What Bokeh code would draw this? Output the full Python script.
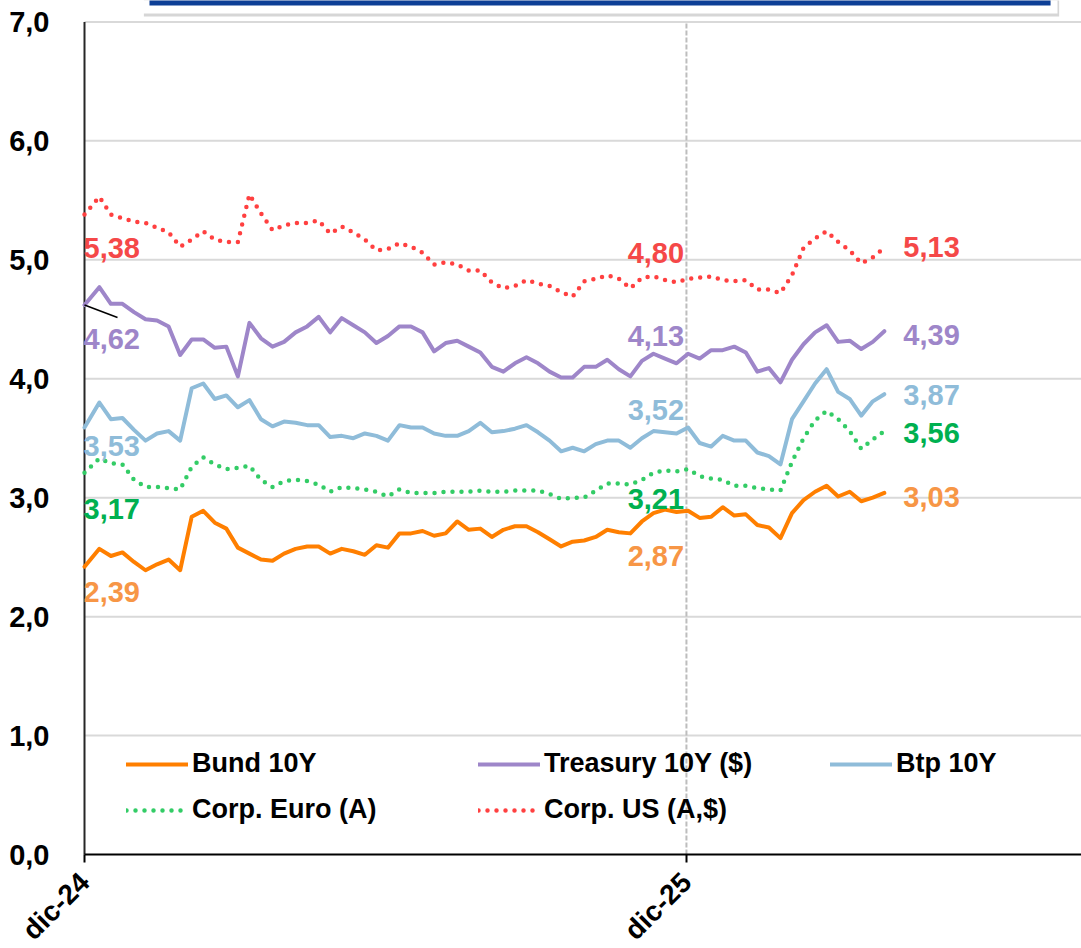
import math
import pandas as pd
from bokeh.plotting import figure
from bokeh.models import (Range1d, FixedTicker, CustomJSTickFormatter, Legend,
                          LegendItem, ColumnDataSource)
from bokeh.core.properties import value
from bokeh.embed import file_html
from bokeh.resources import INLINE

# ---------------- data ----------------
dates = pd.to_datetime(["2024-12-01"]).append(
    pd.date_range("2024-12-10", periods=69, freq="7D"))

bund = [2.42, 2.57, 2.51, 2.54, 2.46, 2.39, 2.44, 2.48, 2.39, 2.84,
        2.89, 2.79, 2.74, 2.58, 2.53, 2.48, 2.47, 2.53, 2.57, 2.59,
        2.59, 2.53, 2.57, 2.55, 2.52, 2.60, 2.58, 2.70, 2.70, 2.72,
        2.68, 2.70, 2.80, 2.73, 2.74, 2.67, 2.73, 2.76, 2.76, 2.71,
        2.65, 2.59, 2.63, 2.64, 2.67, 2.73, 2.71, 2.70, 2.80, 2.87,
        2.90, 2.88, 2.89, 2.83, 2.84, 2.92, 2.85, 2.86, 2.77, 2.75,
        2.66, 2.87, 2.98, 3.05, 3.10, 3.01, 3.05, 2.97, 3.00, 3.04]

treasury = [4.62, 4.77, 4.63, 4.63, 4.56, 4.50, 4.49, 4.44, 4.20, 4.33,
            4.33, 4.26, 4.27, 4.02, 4.47, 4.34, 4.27, 4.31, 4.39, 4.44,
            4.52, 4.39, 4.51, 4.45, 4.39, 4.30, 4.36, 4.44, 4.44, 4.39,
            4.23, 4.30, 4.32, 4.27, 4.22, 4.10, 4.06, 4.13, 4.18, 4.13,
            4.06, 4.01, 4.01, 4.10, 4.10, 4.16, 4.08, 4.02, 4.15, 4.21,
            4.17, 4.13, 4.21, 4.17, 4.24, 4.24, 4.27, 4.22, 4.06, 4.09,
            3.97, 4.16, 4.29, 4.39, 4.45, 4.31, 4.32, 4.25, 4.31, 4.40]

btp = [3.59, 3.80, 3.66, 3.67, 3.57, 3.48, 3.54, 3.56, 3.48, 3.92,
       3.96, 3.83, 3.86, 3.76, 3.82, 3.66, 3.60, 3.64, 3.63, 3.61,
       3.61, 3.51, 3.52, 3.50, 3.54, 3.52, 3.48, 3.61, 3.59, 3.59,
       3.54, 3.52, 3.52, 3.56, 3.63, 3.55, 3.56, 3.58, 3.61, 3.55,
       3.48, 3.39, 3.42, 3.39, 3.45, 3.48, 3.48, 3.42, 3.50, 3.56,
       3.55, 3.54, 3.59, 3.46, 3.43, 3.52, 3.48, 3.48, 3.38, 3.35,
       3.28, 3.66, 3.81, 3.96, 4.08, 3.89, 3.83, 3.69, 3.81, 3.87]

corp_euro = [3.21, 3.33, 3.29, 3.28, 3.15, 3.09, 3.09, 3.08, 3.07, 3.26,
             3.34, 3.28, 3.24, 3.25, 3.27, 3.15, 3.09, 3.14, 3.15, 3.14,
             3.11, 3.05, 3.09, 3.08, 3.07, 3.05, 3.01, 3.07, 3.04, 3.04,
             3.04, 3.05, 3.05, 3.05, 3.06, 3.05, 3.05, 3.06, 3.06, 3.06,
             3.03, 2.99, 3.00, 3.00, 3.06, 3.12, 3.12, 3.11, 3.15, 3.21,
             3.23, 3.22, 3.24, 3.18, 3.16, 3.15, 3.10, 3.10, 3.08, 3.07,
             3.06, 3.30, 3.50, 3.65, 3.73, 3.66, 3.56, 3.41, 3.49, 3.56]

corp_us = [5.38, 5.53, 5.38, 5.35, 5.32, 5.31, 5.27, 5.23, 5.11, 5.17,
           5.24, 5.17, 5.15, 5.15, 5.55, 5.39, 5.25, 5.29, 5.31, 5.31,
           5.33, 5.22, 5.28, 5.23, 5.17, 5.08, 5.09, 5.14, 5.11, 5.06,
           4.96, 4.98, 4.96, 4.91, 4.91, 4.81, 4.76, 4.78, 4.83, 4.80,
           4.78, 4.73, 4.69, 4.82, 4.84, 4.87, 4.84, 4.76, 4.85, 4.86,
           4.83, 4.81, 4.84, 4.85, 4.86, 4.83, 4.82, 4.83, 4.75, 4.75,
           4.72, 4.87, 5.10, 5.18, 5.24, 5.15, 5.08, 4.97, 5.02, 5.10]

series_names = ["Bund 10Y", "Treasury 10Y ($)", "Btp 10Y",
                "Corp. Euro (A)", "Corp. US (A,$)"]

# data labels shown on the chart (start / year-end / last)
label_start = [2.39, 4.62, 3.53, 3.17, 5.38]
label_mid = [2.87, 4.13, 3.52, 3.21, 4.80]
label_end = [3.03, 4.39, 3.87, 3.56, 5.13]

x_ticks = ["2024-12-01", "2025-12-01"]
y_ticks = [0, 1, 2, 3, 4, 5, 6, 7]

# ---------------- styles ----------------
all_series = [bund, treasury, btp, corp_euro, corp_us]
line_colors = ["#ff7f00", "#9e86c9", "#8fbcd9", "#33cc66", "#ff4040"]
label_colors = ["#f79646", "#9e86c9", "#8fbcd9", "#00b050", "#f54848"]
dashes = ["solid", "solid", "solid", "0 9", "0 9"]
widths = [4, 4, 4, 4.5, 4.5]
FONT = "Liberation Sans"

day = pd.Timedelta(days=1)
t0 = pd.Timestamp(x_ticks[0])
t25 = pd.Timestamp(x_ticks[1])
x_start = t0 - 50.94 * day
x_end = x_start + 655.5 * day

p = figure(width=1081, height=948, x_axis_type="datetime",
           x_range=Range1d(x_start.to_pydatetime(), x_end.to_pydatetime()),
           y_range=Range1d(-0.790, 7.180),
           output_backend="svg", toolbar_location=None,
           min_border_left=0, min_border_right=0, min_border_top=0,
           min_border_bottom=0)
p.outline_line_color = None
p.background_fill_color = "white"
p.border_fill_color = "white"

# y axis (drawn at the first date)
yt = FixedTicker(ticks=y_ticks)
p.yaxis.ticker = yt
p.yaxis.fixed_location = t0.value / 1e6
p.yaxis.formatter = CustomJSTickFormatter(
    code="return tick.toFixed(1).replace('.', ',');")
p.yaxis.axis_line_color = None
p.yaxis.major_tick_line_color = None
p.yaxis.minor_tick_line_color = None
p.yaxis.major_label_standoff = 29
p.yaxis.major_label_text_font = FONT
p.yaxis.major_label_text_font_style = "bold"
p.yaxis.major_label_text_font_size = "29px"
p.yaxis.major_label_text_color = "black"

# x axis (drawn at y = 0, starting at the y axis)
xt = FixedTicker(ticks=[pd.Timestamp(t).value / 1e6 for t in x_ticks])
p.xaxis.ticker = xt
p.xaxis.fixed_location = 0
p.xaxis.bounds = (t0.value / 1e6, x_end.value / 1e6)
p.xaxis.formatter = CustomJSTickFormatter(code="""
const m = ["gen","feb","mar","apr","mag","giu","lug","ago","set","ott","nov","dic"];
const d = new Date(tick);
return m[d.getUTCMonth()] + "-" + String(d.getUTCFullYear()).slice(2);
""")
p.xaxis.axis_line_color = "black"
p.xaxis.axis_line_width = 2
p.xaxis.major_tick_line_color = "black"
p.xaxis.major_tick_line_width = 2
p.xaxis.major_tick_in = 0
p.xaxis.major_tick_out = 8
p.xaxis.minor_tick_line_color = None
p.xaxis.major_label_orientation = math.pi / 4
p.xaxis.major_label_standoff = 15
p.xaxis.major_label_text_font = FONT
p.xaxis.major_label_text_font_style = "bold"
p.xaxis.major_label_text_font_size = "28px"
p.xaxis.major_label_text_color = "black"

# horizontal grid lines starting at the y axis
p.xgrid.grid_line_color = None
p.ygrid.grid_line_color = None
gy = [v for v in y_ticks if v > 0]
p.segment(x0=[t0] * len(gy), y0=gy, x1=[x_end] * len(gy), y1=gy,
          line_color="#d9d9d9", line_width=2)

# title box (cut off at the top of the picture)
p.quad(left=[t0 + 36 * day], right=[t0 + 591 * day], bottom=[7.045], top=[7.5],
       fill_color="#c4c4c4", fill_alpha=0.7, line_color=None)
p.quad(left=[t0 + 35 * day], right=[t0 + 590 * day], bottom=[7.071], top=[7.5],
       fill_color="white", line_color=None)
p.quad(left=[t0 + 39.4 * day], right=[t0 + 585.8 * day], bottom=[7.138], top=[7.5],
       fill_color="#0d3f96", line_color=None)

# y axis line and year separator
p.segment(x0=[t0], y0=[0], x1=[t0], y1=[7],
          line_color="#262626", line_width=2)
p.segment(x0=[t25], y0=[0], x1=[t25], y1=[7], line_color="#bdbdbd",
          line_width=2, line_dash="5 2")

# series
renderers = []
for s, c, d, w in zip(all_series, line_colors, dashes, widths):
    src = ColumnDataSource(dict(x=dates, y=s))
    r = p.line("x", "y", source=src, line_color=c, line_width=w,
               line_dash=d, line_cap="round", line_join="round")
    renderers.append(r)

# leader line of the "4,62" label
p.segment(x0=[dates[0]], y0=[treasury[0]], x1=[dates[0] + 20 * day],
          y1=[treasury[0] - 0.105], line_color="black", line_width=1.5)

# data labels
def fmt(v):
    return f"{v:.2f}".replace(".", ",")

groups = [
    (label_start, 0, -1, [25, 34, 18, 36, 33], "left"),
    (label_mid, 52, -4, [45, -18, -18, 30, -26], "right"),
    (label_end, 69, 19, [4, 4, 1, 2, -1], "left"),
]
for labels, idx, dx, dys, align in groups:
    src = ColumnDataSource(dict(
        x=[dates[idx]] * 5,
        y=[s[idx] for s in all_series],
        text=[fmt(v) for v in labels],
        color=label_colors,
        dy=dys,
    ))
    p.text("x", "y", text="text", source=src, text_color="color",
           x_offset=dx, y_offset="dy", text_align=align,
           text_baseline="middle", text_font=value(FONT),
           text_font_style="bold", text_font_size="29px")

# legend
items = [LegendItem(label=n, renderers=[r]) for n, r in zip(series_names, renderers)]
legend = Legend(items=items, location=(126, 123), orientation="horizontal",
                ncols=3, glyph_width=62, glyph_height=30, label_height=30,
                label_width=271, label_standoff=4, spacing=15, padding=0,
                margin=0, border_line_color=None, background_fill_alpha=0,
                label_text_font=FONT, label_text_font_style="bold",
                label_text_font_size="27px", label_text_color="black")
p.add_layout(legend)

open("out.html", "w").write(file_html(p, INLINE))
